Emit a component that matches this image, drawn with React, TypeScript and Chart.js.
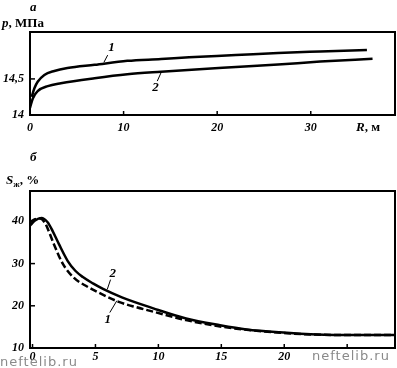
import React, { useEffect, useRef } from "react";
import { Chart, registerables } from "chart.js";
Chart.register(...registerables);

const FONT = "'Liberation Serif', 'DejaVu Serif', serif";

// Panel a: pressure vs radius
const R_A1 = [0.18, 0.47, 0.82, 1.53, 2.6, 4.0, 6.9, 10.4, 14, 17, 22, 26.5, 31, 36];
const P_A1 = [14.25, 14.37, 14.46, 14.555, 14.61, 14.65, 14.695, 14.75, 14.775, 14.8, 14.83, 14.86, 14.88, 14.9];
const R_A2 = [0, 0.3, 0.82, 1.9, 3.3, 6.9, 10.4, 14, 18.1, 22, 26.5, 31, 36.6];
const P_A2 = [14.1, 14.23, 14.33, 14.4, 14.44, 14.51, 14.565, 14.6, 14.635, 14.665, 14.7, 14.74, 14.78];
const TICKS_AX = [0, 10, 20, 30];
const TICKS_AY = [14, 14.5];

// Panel b: saturation vs radius
const R_B1 = [-0.2, 0.2, 0.6, 1.0, 1.3, 1.7, 2.4, 3.3, 4.2, 5.2, 6.8, 8.2, 9.6, 12.2, 14.9, 17.0, 20.2, 22.1, 24, 28.8];
const S_B1 = [39.8, 40.5, 40.7, 39.6, 37.6, 34.6, 30.0, 26.6, 24.8, 23.2, 21.0, 19.7, 18.6, 16.6, 15.1, 14.3, 13.5, 13.2, 13.1, 13.1];
const R_B2 = [-0.2, 0.2, 0.7, 1.2, 1.6, 2.1, 2.8, 3.4, 4.0, 4.8, 5.6, 7.1, 9.6, 12.2, 14.9, 17.0, 20.2, 22.1, 24, 28.8];
const S_B2 = [39.0, 40.2, 40.8, 39.8, 37.7, 34.6, 30.6, 28.3, 26.8, 25.3, 24.0, 22.0, 19.4, 17.0, 15.4, 14.4, 13.6, 13.25, 13.1, 13.1];
const TICKS_BX = [0, 5, 10, 15, 20, 25];
const TICKS_BY = [10, 20, 30, 40];

type Note = { text: string; x: number; y: number; lx1: number; ly1: number; lx2: number; ly2: number };
const NOTES_A: Note[] = [
  { text: "1", x: 8.7, y: 14.94, lx1: 8.3, ly1: 14.83, lx2: 7.9, ly2: 14.73 },
  { text: "2", x: 13.4, y: 14.375, lx1: 13.6, ly1: 14.47, lx2: 14.05, ly2: 14.6 },
];
const NOTES_B: Note[] = [
  { text: "2", x: 6.37, y: 27.6, lx1: 6.2, ly1: 26.2, lx2: 5.94, ly2: 23.9 },
  { text: "1", x: 5.98, y: 16.8, lx1: 6.14, ly1: 18.4, lx2: 6.7, ly2: 21.2 },
];

const pts = (xs: number[], ys: number[]) => xs.map((x, i) => ({ x, y: ys[i] }));

function framePlugin(notes: Note[]) {
  return {
    id: "frame",
    afterDraw(chart: any) {
      const { ctx, chartArea: a, scales } = chart;
      ctx.save();
      ctx.strokeStyle = "#000";
      ctx.lineWidth = 2;
      ctx.strokeRect(a.left, a.top, a.right - a.left, a.bottom - a.top);
      ctx.lineWidth = 1.5;
      scales.x.ticks.forEach((t: any) => {
        const px = scales.x.getPixelForValue(t.value);
        ctx.beginPath();
        ctx.moveTo(px, a.bottom);
        ctx.lineTo(px, a.bottom - 4);
        ctx.stroke();
      });
      scales.y.ticks.forEach((t: any) => {
        const py = scales.y.getPixelForValue(t.value);
        ctx.beginPath();
        ctx.moveTo(a.left, py);
        ctx.lineTo(a.left + 5, py);
        ctx.stroke();
      });
      ctx.fillStyle = "#000";
      ctx.font = `italic bold 13px ${FONT}`;
      ctx.textAlign = "center";
      ctx.textBaseline = "middle";
      ctx.lineWidth = 1;
      notes.forEach((n) => {
        ctx.fillText(n.text, scales.x.getPixelForValue(n.x), scales.y.getPixelForValue(n.y));
        ctx.beginPath();
        ctx.moveTo(scales.x.getPixelForValue(n.lx1), scales.y.getPixelForValue(n.ly1));
        ctx.lineTo(scales.x.getPixelForValue(n.lx2), scales.y.getPixelForValue(n.ly2));
        ctx.stroke();
      });
      ctx.restore();
    },
  };
}

function makeOptions(o: {
  xmin: number; xmax: number; ymin: number; ymax: number;
  xt: number[]; yt: number[]; top: number; xh: number;
  xlab: (v: number) => string; ylab: (v: number) => string; xpad: number;
}) {
  const tickFont = { family: FONT, size: 12, style: "italic" as const, weight: "bold" as const };
  return {
    responsive: false,
    animation: false as const,
    devicePixelRatio: 1,
    layout: { padding: { top: o.top, right: 2, left: 0, bottom: 0 } },
    plugins: { legend: { display: false }, tooltip: { enabled: false } },
    elements: { point: { radius: 0 } },
    scales: {
      x: {
        type: "linear" as const,
        min: o.xmin,
        max: o.xmax,
        grid: { display: false, drawTicks: false },
        border: { display: false },
        afterBuildTicks: (s: any) => { s.ticks = o.xt.map((v) => ({ value: v })); },
        afterFit: (s: any) => { s.height = o.xh; },
        ticks: { color: "#000", font: tickFont, padding: o.xpad, maxRotation: 0, callback: (v: any) => o.xlab(Number(v)) },
      },
      y: {
        type: "linear" as const,
        min: o.ymin,
        max: o.ymax,
        grid: { display: false, drawTicks: false },
        border: { display: false },
        afterBuildTicks: (s: any) => { s.ticks = o.yt.map((v) => ({ value: v })); },
        afterFit: (s: any) => { s.width = 30; },
        ticks: { color: "#000", font: tickFont, padding: 6, callback: (v: any) => o.ylab(Number(v)) },
      },
    },
  };
}

function ChartA() {
  const ref = useRef<HTMLCanvasElement>(null);
  useEffect(() => {
    const ch = new Chart(ref.current!, {
      type: "line",
      data: {
        datasets: [
          { data: pts(R_A1, P_A1), borderColor: "#000", borderWidth: 2.5, cubicInterpolationMode: "monotone", fill: false },
          { data: pts(R_A2, P_A2), borderColor: "#000", borderWidth: 2.5, cubicInterpolationMode: "monotone", fill: false },
        ],
      },
      options: makeOptions({
        xmin: 0, xmax: 39, ymin: 14, ymax: 15.15, xt: TICKS_AX, yt: TICKS_AY, top: 32, xh: 25, xpad: 6,
        xlab: (v) => String(v), ylab: (v) => String(v).replace(".", ","),
      }) as any,
      plugins: [framePlugin(NOTES_A)],
    });
    return () => ch.destroy();
  }, []);
  return <canvas ref={ref} width={397} height={140} style={{ position: "absolute", left: 0, top: 0 }} />;
}

function ChartB() {
  const ref = useRef<HTMLCanvasElement>(null);
  useEffect(() => {
    const ch = new Chart(ref.current!, {
      type: "line",
      data: {
        datasets: [
          { data: pts(R_B1, S_B1), borderColor: "#000", borderWidth: 2.5, borderDash: [7, 3], cubicInterpolationMode: "monotone", fill: false },
          { data: pts(R_B2, S_B2), borderColor: "#000", borderWidth: 2.5, cubicInterpolationMode: "monotone", fill: false },
        ],
      },
      options: makeOptions({
        xmin: -0.2, xmax: 28.8, ymin: 10, ymax: 47.2, xt: TICKS_BX, yt: TICKS_BY, top: 51, xh: 20, xpad: 2,
        xlab: (v) => (v === 25 ? "" : String(v)), ylab: (v) => String(v),
      }) as any,
      plugins: [framePlugin(NOTES_B)],
    });
    return () => ch.destroy();
  }, []);
  return <canvas ref={ref} width={397} height={228} style={{ position: "absolute", left: 0, top: 140 }} />;
}

const txt: React.CSSProperties = {
  position: "absolute",
  fontFamily: FONT,
  fontWeight: "bold",
  fontSize: 13,
  color: "#000",
  lineHeight: "14px",
  whiteSpace: "nowrap",
};
const wm: React.CSSProperties = {
  position: "absolute",
  fontFamily: "'DejaVu Sans', sans-serif",
  fontSize: 13,
  color: "#8a8a8a",
  letterSpacing: 1,
  whiteSpace: "nowrap",
  lineHeight: "14px",
};

export default function App() {
  return (
    <div style={{ position: "fixed", left: 0, top: 0, width: 397, height: 368, background: "#fff", overflow: "hidden" }}>
      <ChartA />
      <ChartB />
      <div style={{ ...txt, left: 30, top: 0, fontStyle: "italic" }}>а</div>
      <div style={{ ...txt, left: 2, top: 16 }}><i>р</i>, МПа</div>
      <div style={{ ...txt, left: 356, top: 120 }}><i>R</i>, м</div>
      <div style={{ ...txt, left: 30, top: 150, fontStyle: "italic" }}>б</div>
      <div style={{ ...txt, left: 6, top: 173 }}><i>S</i><sub style={{ fontSize: 9, verticalAlign: "-3px" }}>ж</sub>, %</div>
      <div style={{ ...wm, left: 0, top: 355 }}>neftelib.ru</div>
      <div style={{ ...wm, left: 312, top: 349 }}>neftelib.ru</div>
    </div>
  );
}
